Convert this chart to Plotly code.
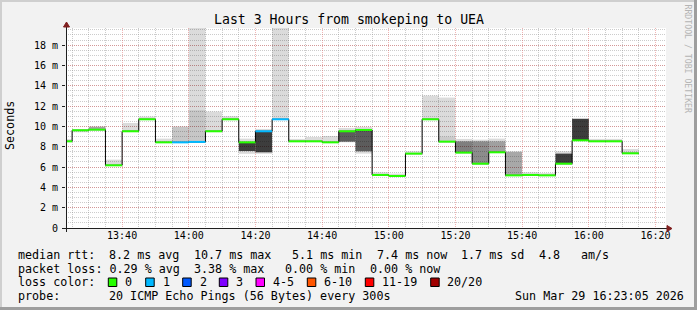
import re
import plotly.graph_objects as go
import pandas as pd

# ---------------- data ----------------
bucket_start = pd.date_range("2026-03-29 13:20:00", periods=35, freq="5min")
median_ms = [8.53, 9.62, 9.68, 6.17, 9.52, 10.70, 8.43, 8.43, 8.47, 9.52,
             10.70, 8.43, 9.52, 10.70, 8.53, 8.53, 8.43, 9.52, 9.65, 5.22,
             5.12, 7.32, 10.70, 8.50, 7.42, 6.33, 7.45, 5.18, 5.22, 5.18,
             6.33, 8.63, 8.53, 8.53, 7.35]
lost_pings = [0, 0, 0, 0, 0, 0, 0, 1, 1, 0,
              0, 0, 1, 1, 0, 0, 0, 0, 0, 0,
              0, 0, 0, 0, 0, 0, 0, 0, 0, 0,
              0, 0, 0, 0, 0]
smoke_lo = [8.53, 9.42, 9.68, 6.17, 9.52, 10.70, 8.43, 8.43, 8.47, 9.52,
            10.70, 7.30, 7.30, 10.70, 8.53, 8.53, 8.43, 8.43, 7.32, 5.22,
            5.12, 7.32, 10.70, 8.50, 7.42, 6.33, 7.45, 5.18, 5.22, 5.18,
            6.33, 8.63, 8.53, 8.53, 7.35]
smoke_hi = [8.75, 9.65, 10.00, 6.73, 10.34, 10.96, 8.80, 9.98, 22.0, 11.46,
            11.00, 8.80, 9.75, 22.0, 8.77, 8.96, 9.06, 9.85, 9.95, 5.48,
            5.35, 7.55, 13.03, 12.84, 8.77, 8.70, 8.80, 7.55, 5.48, 5.40,
            7.55, 10.80, 8.77, 8.77, 7.78]
N = None
core_lo = [N, N, 9.72, N, N, N, N, 8.43, 8.47, N,
           N, 7.58, 7.45, N, N, N, N, 8.50, 7.55, N,
           N, N, N, 8.50, 7.42, 6.33, 7.45, 5.18, N, N,
           6.33, 8.63, N, N, N]
core_hi = [N, N, 9.95, N, N, N, N, 9.98, 11.59, N,
           N, 8.43, 9.45, N, N, N, N, 9.45, 9.55, N,
           N, N, N, 9.00, 8.53, 8.53, 8.53, 7.49, N, N,
           7.32, 10.74, N, N, N]
core_density = [0, 0, 0.35, 0, 0, 0, 0, 0.22, 0.22, 0,
                0, 0.76, 0.76, 0, 0, 0, 0, 0.64, 0.64, 0,
                0, 0, 0, 0.20, 0.50, 0.45, 0.37, 0.34, 0, 0,
                0.76, 0.76, 0, 0, 0]

loss_bins = ["0", "1", "2", "3", "4-5", "6-10", "11-19", "20/20"]
loss_bin_low = [0, 1, 2, 3, 4, 6, 11, 20]
loss_colors = ["#26ff00", "#00b8ff", "#0059ff", "#7e00ff", "#ff00ff",
               "#ff5500", "#ff0000", "#a10000"]

y_tick_vals = [0, 2, 4, 6, 8, 10, 12, 14, 16, 18]
y_tick_text = ["0", "2 m", "4 m", "6 m", "8 m", "10 m", "12 m", "14 m", "16 m", "18 m"]

title_text = "Last 3 Hours from smokeping to UEA"
line_rtt = "median rtt:  8.2 ms avg  10.7 ms max   5.1 ms min  7.4 ms now  1.7 ms sd  4.8   am/s"
line_loss = "packet loss: 0.29 % avg  3.38 % max   0.00 % min  0.00 % now"
line_color = "loss color:"
line_probe = "probe:       20 ICMP Echo Pings (56 Bytes) every 300s"
stamp = "Sun Mar 29 16:23:05 2026"

# ---------------- geometry ----------------
W, H = 697, 310
L, PW = 66, 600
T, PH = 28, 200
STEP = pd.Timedelta(minutes=5)
MONO = "DejaVu Sans Mono"
CHAR = 7.036
FS = 11.7


def px(x):
    return (x - L) / PW


def py(y):
    return (T + PH - y) / PH


centers = [t + STEP / 2 for t in bucket_start]
OUT_ALPHA = 0.14

fig = go.Figure()

fig.add_trace(go.Bar(
    x=centers, y=[h - l for l, h in zip(smoke_lo, smoke_hi)], base=smoke_lo,
    width=STEP.total_seconds() * 1000, marker=dict(color=f"rgba(0,0,0,{OUT_ALPHA})", line_width=0),
    hoverinfo="skip", showlegend=False))

cx, cy, cb, cc = [], [], [], []
for c, lo, hi, d in zip(centers, core_lo, core_hi, core_density):
    if lo is None:
        continue
    a = 1 - (1 - d) / (1 - OUT_ALPHA)
    cx.append(c); cy.append(hi - lo); cb.append(lo); cc.append(f"rgba(0,0,0,{a:.3f})")
fig.add_trace(go.Bar(
    x=cx, y=cy, base=cb, width=STEP.total_seconds() * 1000,
    marker=dict(color=cc, line_width=0), hoverinfo="skip", showlegend=False))

fig.add_trace(go.Scatter(
    x=list(bucket_start) + [bucket_start[-1] + STEP], y=median_ms + [median_ms[-1]],
    mode="lines", line=dict(color="black", width=1, shape="hv"),
    hoverinfo="skip", showlegend=False))


def loss_color(n):
    col = loss_colors[0]
    for lo, c in zip(loss_bin_low, loss_colors):
        if n >= lo:
            col = c
    return col


groups = {}
for t, m, n in zip(bucket_start, median_ms, lost_pings):
    c = loss_color(n)
    gx, gy = groups.setdefault(c, ([], []))
    gx += [t, t + STEP, None]
    gy += [m, m, None]
for c, (gx, gy) in groups.items():
    fig.add_trace(go.Scatter(x=gx, y=gy, mode="lines", line=dict(color=c, width=2),
                             hoverinfo="skip", showlegend=False))

shapes = [
    dict(type="rect", xref="paper", yref="paper", x0=px(0), x1=px(W), y0=py(0), y1=py(2),
         fillcolor="#cfcfcf", line_width=0, layer="below"),
    dict(type="rect", xref="paper", yref="paper", x0=px(0), x1=px(2), y0=py(0), y1=py(H),
         fillcolor="#cfcfcf", line_width=0, layer="below"),
    dict(type="rect", xref="paper", yref="paper", x0=px(W - 3), x1=px(W), y0=py(0), y1=py(H),
         fillcolor="#9e9e9e", line_width=0, layer="below"),
    dict(type="rect", xref="paper", yref="paper", x0=px(0), x1=px(W), y0=py(H - 3), y1=py(H),
         fillcolor="#9e9e9e", line_width=0, layer="below"),
    dict(type="line", xref="paper", yref="paper", x0=px(62), x1=px(668), y0=py(228.5), y1=py(228.5),
         line=dict(color="#1f1f1f", width=1)),
    dict(type="line", xref="paper", yref="paper", x0=px(66.5), x1=px(66.5), y0=py(232), y1=py(25),
         line=dict(color="#1f1f1f", width=1)),
    dict(type="path", xref="paper", yref="paper",
         path=f"M {px(667)} {py(225.5)} L {px(672)} {py(228.5)} L {px(667)} {py(231.5)} Z",
         fillcolor="#801f1f", line=dict(color="#801f1f", width=1)),
    dict(type="path", xref="paper", yref="paper",
         path=f"M {px(63.5)} {py(27)} L {px(66.5)} {py(22)} L {px(69.5)} {py(27)} Z",
         fillcolor="#801f1f", line=dict(color="#801f1f", width=1)),
]

annotations = []


def add_text(txt, x, y, size=FS, color="black", angle=0, xanchor="left"):
    annotations.append(dict(x=px(x), y=py(y), xref="paper", yref="paper", text=txt,
                            showarrow=False, xanchor=xanchor, yanchor="middle", textangle=angle,
                            font=dict(family=MONO, size=size, color=color)))


def add_mono_line(line, y, x0=16):
    for m in re.finditer(r"\S+(?: \S+)*", line):
        tok = m.group(0)
        add_text(tok.replace(" ", "\u00a0"), x0 + m.start() * CHAR, y)


box_left = [108.3, 145.7, 182.7, 219.3, 256.0, 307.3, 365.3, 430.7]
for bx, lab, col in zip(box_left, loss_bins, loss_colors):
    shapes.append(dict(type="rect", xref="paper", yref="paper", x0=px(bx), x1=px(bx + 8.5),
                       y0=py(286.5), y1=py(278), fillcolor=col, line=dict(color="black", width=1)))
    add_text(lab, bx + 14.8, 282)

add_mono_line(line_rtt, 254.5)
add_mono_line(line_loss, 268.5)
add_mono_line(line_color, 282)
add_mono_line(line_probe, 296)
add_text(stamp.replace(" ", "\u00a0"), 513.3, 296)
add_text("Seconds", 10, 126, angle=-90, xanchor="center")
add_text("RRDTOOL / TOBI OETIKER".replace(" ", "\u00a0"), 687.5, 59, size=8.2,
         color="#b4b4b4", angle=90, xanchor="center")

MAJOR = "rgba(222,79,79,0.42)"
MINOR = "rgba(143,143,143,0.45)"

fig.update_layout(
    width=W, height=H, margin=dict(l=L, r=W - L - PW, t=T, b=H - T - PH, pad=0),
    paper_bgcolor="#f2f2f2", plot_bgcolor="white", barmode="overlay",
    showlegend=False, hovermode=False,
    title=dict(text=title_text, x=349 / W, y=1 - 19 / H, xref="container", yref="container",
               xanchor="center", yanchor="middle",
               font=dict(family=MONO, size=13.2, color="black")),
    shapes=shapes, annotations=annotations,
    xaxis=dict(type="date", range=["2026-03-29 13:23:10", "2026-03-29 16:23:10"],
               tickmode="linear", tick0="2026-03-29 13:40:00", dtick=20 * 60 * 1000,
               tickformat="%H:%M", showgrid=True, gridcolor=MAJOR, griddash="1px,1px", gridwidth=1,
               ticks="", ticklabelstandoff=0,
               tickfont=dict(family=MONO, size=10, color="black"),
               showline=False, zeroline=False, fixedrange=True,
               minor=dict(tickmode="linear", tick0="2026-03-29 13:20:00", dtick=5 * 60 * 1000,
                          showgrid=True, gridcolor=MINOR, griddash="1px,1px", gridwidth=1,
                          ticks="")),
    yaxis=dict(range=[0, PH / 10.16], tickmode="array", tickvals=y_tick_vals, ticktext=y_tick_text,
               showgrid=True, gridcolor=MAJOR, griddash="1px,1px", gridwidth=1,
               ticks="outside", ticklen=3, tickcolor="#1f1f1f", ticklabelstandoff=2,
               tickfont=dict(family=MONO, size=10, color="black"),
               showline=False, zeroline=False, fixedrange=True,
               minor=dict(tickmode="linear", tick0=0, dtick=0.5, showgrid=True,
                          gridcolor=MINOR, griddash="1px,1px", gridwidth=1, ticks="")),
)

fig.write_html("out.html")
